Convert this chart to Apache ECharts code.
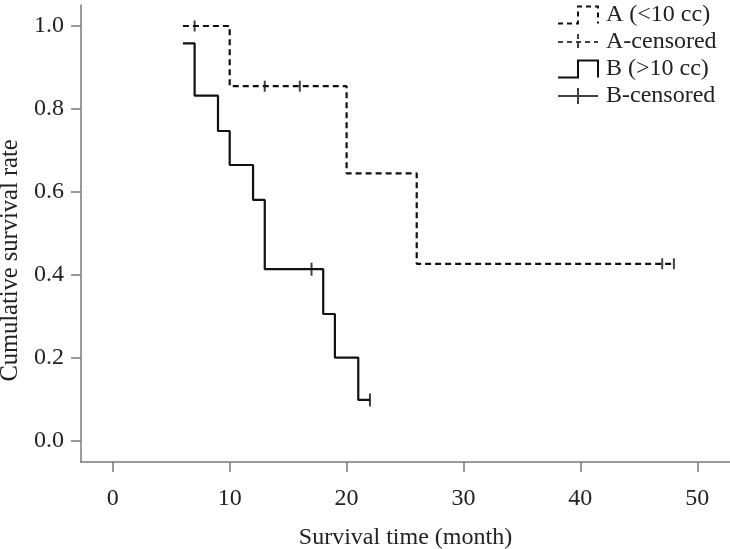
<!DOCTYPE html>
<html>
<head>
<meta charset="utf-8">
<script src="https://cdn.jsdelivr.net/npm/echarts@6/dist/echarts.min.js"></script>
<style>html,body{margin:0;padding:0;background:#fff}#c{width:730px;height:549px}</style>
</head>
<body>
<div id="c"></div>
<script>
// Group A (<10 cc) Kaplan-Meier steps
const timeA = [6, 10, 20, 26, 48];
const survA = [1.0, 0.855, 0.645, 0.427, 0.427];
const censorTimeA = [7, 13, 16, 47, 48];
const censorSurvA = [1.0, 0.855, 0.855, 0.427, 0.427];
// Group B (>10 cc)
const timeB = [6, 7, 9, 10, 12, 13, 18, 19, 21, 22];
const survB = [0.958, 0.832, 0.747, 0.665, 0.581, 0.414, 0.306, 0.201, 0.099, 0.099];
const censorTimeB = [17, 22];
const censorSurvB = [0.414, 0.099];
const xTicks = [0, 10, 20, 30, 40, 50];
const yTicks = [0, 0.2, 0.4, 0.6, 0.8, 1.0];
const legendNames = ['A (<10 cc)', 'A-censored', 'B (>10 cc)', 'B-censored'];

const zip = (a, b) => a.map((v, i) => [v, b[i]]);
const FONT = "'Liberation Serif', 'DejaVu Serif', serif";
const AX = '#7a7a7a';

const chart = echarts.init(document.getElementById('c'), null, {renderer: 'canvas'});
chart.setOption({
  animation: false,
  textStyle: {fontFamily: FONT},
  grid: {left: 81, right: 0, top: 5, bottom: 87, containLabel: false, outerBoundsMode: 'none'},
  xAxis: {
    type: 'value', min: -2.72, max: 52.8,
    name: 'Survival time (month)', nameLocation: 'middle', nameGap: 64,
    nameTextStyle: {fontFamily: FONT, fontSize: 24, color: '#222'},
    axisLine: {show: true, onZero: false, lineStyle: {color: AX, width: 1.5}},
    axisTick: {show: true, length: 10, lineStyle: {color: AX, width: 1.5}, customValues: xTicks},
    axisLabel: {fontFamily: FONT, fontSize: 24, color: '#222', margin: 25, customValues: xTicks},
    splitLine: {show: false}
  },
  yAxis: {
    type: 'value', min: -0.0506, max: 1.0506,
    name: 'Cumulative survival rate', nameLocation: 'middle', nameGap: 50,
    nameTextStyle: {fontFamily: FONT, fontSize: 24.5, color: '#222', padding: [0, 54, 0, 0]},
    axisLine: {show: true, onZero: false, lineStyle: {color: AX, width: 1.5}},
    axisTick: {show: true, length: 10, lineStyle: {color: AX, width: 1.5}, customValues: yTicks},
    axisLabel: {fontFamily: FONT, fontSize: 24, color: '#222', margin: 17, customValues: yTicks,
      formatter: v => v.toFixed(1)},
    splitLine: {show: false}
  },
  legend: {
    orient: 'vertical', left: 557, top: 3, padding: 0, itemWidth: 40, itemHeight: 17, itemGap: 3,
    textStyle: {fontFamily: FONT, fontSize: 24, color: '#222', padding: [0, 0, 0, 3]},
    data: [
      {name: legendNames[0], icon: 'path://M0,17 L20,17 L20,0 L40,0 L40,17',
        itemStyle: {color: 'rgba(0,0,0,0)', borderColor: '#111', borderWidth: 2, borderType: [5, 4]}},
      {name: legendNames[1], icon: 'path://M0,8 L40,8 M20,0 L20,16',
        itemStyle: {color: 'rgba(0,0,0,0)', borderColor: '#111', borderWidth: 2, borderType: [5, 4]}},
      {name: legendNames[2], icon: 'path://M0,17 L20,17 L20,0 L40,0 L40,17',
        itemStyle: {color: 'rgba(0,0,0,0)', borderColor: '#111', borderWidth: 2}},
      {name: legendNames[3], icon: 'path://M0,8 L40,8 M20,0 L20,16',
        itemStyle: {color: 'rgba(0,0,0,0)', borderColor: '#111', borderWidth: 2}}
    ]
  },
  series: [
    {name: legendNames[0], type: 'line', step: 'end', data: zip(timeA, survA), showSymbol: false,
      lineStyle: {color: '#111', width: 2.2, type: [6, 4]}, itemStyle: {color: '#111'}},
    {name: legendNames[1], type: 'scatter', data: zip(censorTimeA, censorSurvA), symbol: 'rect',
      symbolSize: [2, 11], itemStyle: {color: '#111'}},
    {name: legendNames[2], type: 'line', step: 'end', data: zip(timeB, survB), showSymbol: false,
      lineStyle: {color: '#111', width: 2.2}, itemStyle: {color: '#111'}},
    {name: legendNames[3], type: 'scatter', data: zip(censorTimeB, censorSurvB), symbol: 'rect',
      symbolSize: [2, 13], itemStyle: {color: '#111'}}
  ]
});
</script>
</body>
</html>
